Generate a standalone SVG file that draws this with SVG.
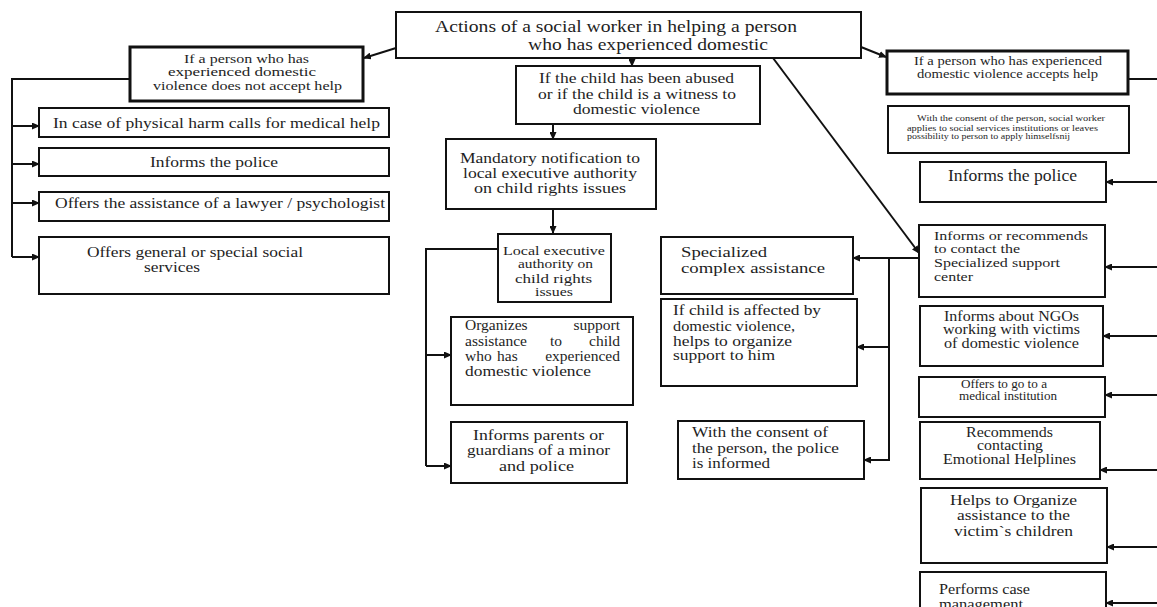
<svg xmlns="http://www.w3.org/2000/svg" width="1157" height="607" viewBox="0 0 1157 607">
<style>
.bx{fill:#fff;stroke:#111;stroke-width:2}
.bt{fill:#fff;stroke:#111;stroke-width:3}
.t{font-family:"Liberation Serif","Times New Roman",serif;fill:#1e1e1e}
.ln{fill:none;stroke:#111;stroke-width:2}
</style>
<defs>
<marker id="ah" markerWidth="8" markerHeight="7" refX="7" refY="3.5" orient="auto" markerUnits="userSpaceOnUse">
<path d="M0,0 L8,3.5 L0,7 Z" fill="#111"/>
</marker>
</defs>
<rect width="1157" height="607" fill="#fff"/>
<g id="connectors">
<line class="ln" x1="396" y1="48" x2="364" y2="58" marker-end="url(#ah)"/>
<line class="ln" x1="861" y1="47" x2="886" y2="57" marker-end="url(#ah)"/>
<line class="ln" x1="632" y1="57" x2="632" y2="66" marker-end="url(#ah)"/>
<line class="ln" x1="553" y1="124" x2="553" y2="139" marker-end="url(#ah)"/>
<line class="ln" x1="553" y1="209" x2="553" y2="233" stroke-width="2.5" marker-end="url(#ah)"/>
<line class="ln" x1="773" y1="58" x2="919" y2="253" marker-end="url(#ah)"/>
<polyline class="ln" points="130,79 12,79 12,257"/>
<line class="ln" x1="12" y1="126" x2="39" y2="126" marker-end="url(#ah)"/>
<line class="ln" x1="12" y1="164" x2="39" y2="164" marker-end="url(#ah)"/>
<line class="ln" x1="12" y1="203" x2="39" y2="203" marker-end="url(#ah)"/>
<line class="ln" x1="12" y1="257" x2="39" y2="257" marker-end="url(#ah)"/>
<polyline class="ln" points="498,249 426,249 426,466"/>
<line class="ln" x1="426" y1="355" x2="451" y2="355" marker-end="url(#ah)"/>
<line class="ln" x1="426" y1="466" x2="451" y2="466" marker-end="url(#ah)"/>
<line class="ln" x1="919" y1="258" x2="853" y2="258" marker-end="url(#ah)"/>
<line class="ln" x1="889" y1="258" x2="889" y2="461"/>
<line class="ln" x1="889" y1="347" x2="857" y2="347" marker-end="url(#ah)"/>
<line class="ln" x1="889" y1="460" x2="864" y2="460" marker-end="url(#ah)"/>
<line class="ln" x1="1128" y1="79" x2="1157" y2="79"/>
<line class="ln" x1="1157" y1="182" x2="1106" y2="182" marker-end="url(#ah)"/>
<line class="ln" x1="1157" y1="267" x2="1105" y2="267" marker-end="url(#ah)"/>
<line class="ln" x1="1157" y1="336" x2="1103" y2="336" marker-end="url(#ah)"/>
<line class="ln" x1="1157" y1="395" x2="1105" y2="395" marker-end="url(#ah)"/>
<line class="ln" x1="1157" y1="470" x2="1100" y2="470" marker-end="url(#ah)"/>
<line class="ln" x1="1157" y1="547" x2="1107" y2="547" marker-end="url(#ah)"/>
<line class="ln" x1="1157" y1="603" x2="1106" y2="603" marker-end="url(#ah)"/>
</g>
<g id="n-top">
<rect class="bx" x="396" y="12" width="465" height="46"/>
<text class="t" font-size="17"><tspan x="435" y="32" textLength="362" lengthAdjust="spacingAndGlyphs">Actions of a social worker in helping a person</tspan><tspan x="528" y="50" textLength="240" lengthAdjust="spacingAndGlyphs">who has experienced domestic</tspan></text>
</g>
<g id="n-notaccept">
<rect class="bt" x="130" y="47" width="233" height="54"/>
<text class="t" font-size="13.5"><tspan x="184" y="63" textLength="125" lengthAdjust="spacingAndGlyphs">If a person who has</tspan><tspan x="168" y="76" textLength="148" lengthAdjust="spacingAndGlyphs">experienced domestic</tspan><tspan x="153" y="90" textLength="189" lengthAdjust="spacingAndGlyphs">violence does not accept help</tspan></text>
</g>
<g id="n-medhelp">
<rect class="bx" x="39" y="108" width="350" height="29"/>
<text class="t" font-size="15"><tspan x="53" y="128" textLength="327" lengthAdjust="spacingAndGlyphs">In case of physical harm calls for medical help</tspan></text>
</g>
<g id="n-police-left">
<rect class="bx" x="39" y="148" width="350" height="28"/>
<text class="t" font-size="15"><tspan x="150" y="167" textLength="128" lengthAdjust="spacingAndGlyphs">Informs the police</tspan></text>
</g>
<g id="n-lawyer">
<rect class="bx" x="39" y="192" width="350" height="29"/>
<text class="t" font-size="15"><tspan x="55" y="208" textLength="330" lengthAdjust="spacingAndGlyphs">Offers the assistance of a lawyer / psychologist</tspan></text>
</g>
<g id="n-general">
<rect class="bx" x="39" y="237" width="350" height="57"/>
<text class="t" font-size="15"><tspan x="87" y="257" textLength="216" lengthAdjust="spacingAndGlyphs">Offers general or special social</tspan><tspan x="144" y="272" textLength="56" lengthAdjust="spacingAndGlyphs">services</tspan></text>
</g>
<g id="n-child">
<rect class="bx" x="516" y="66" width="244" height="58"/>
<text class="t" font-size="14.5"><tspan x="539" y="83" textLength="195" lengthAdjust="spacingAndGlyphs">If the child has been abused</tspan><tspan x="538" y="99" textLength="198" lengthAdjust="spacingAndGlyphs">or if the child is a witness to</tspan><tspan x="573" y="114" textLength="127" lengthAdjust="spacingAndGlyphs">domestic violence</tspan></text>
</g>
<g id="n-mandatory">
<rect class="bx" x="446" y="139" width="210" height="70"/>
<text class="t" font-size="14.5"><tspan x="460" y="163" textLength="180" lengthAdjust="spacingAndGlyphs">Mandatory notification to</tspan><tspan x="463" y="178" textLength="174" lengthAdjust="spacingAndGlyphs">local executive authority</tspan><tspan x="474" y="193" textLength="152" lengthAdjust="spacingAndGlyphs">on child  rights issues</tspan></text>
</g>
<g id="n-localexec">
<rect class="bx" x="498" y="234" width="113" height="68"/>
<text class="t" font-size="13"><tspan x="503" y="255" textLength="102" lengthAdjust="spacingAndGlyphs">Local executive</tspan><tspan x="518" y="268" textLength="75" lengthAdjust="spacingAndGlyphs">authority on</tspan><tspan x="515" y="283" textLength="77" lengthAdjust="spacingAndGlyphs">child  rights</tspan><tspan x="535" y="296" textLength="38" lengthAdjust="spacingAndGlyphs">issues</tspan></text>
</g>
<g id="n-organizes">
<rect class="bx" x="451" y="317" width="182" height="88"/>
<text class="t" font-size="15.5"><tspan x="465" y="330">Organizes</tspan><tspan x="620" y="330" text-anchor="end">support</tspan><tspan x="465" y="346">assistance</tspan><tspan x="550" y="346">to</tspan><tspan x="620" y="346" text-anchor="end">child</tspan><tspan x="465" y="361">who</tspan><tspan x="497" y="361">has</tspan><tspan x="620" y="361" text-anchor="end">experienced</tspan><tspan x="465" y="376" textLength="126" lengthAdjust="spacingAndGlyphs">domestic violence</tspan></text>
</g>
<g id="n-parents">
<rect class="bx" x="451" y="422" width="176" height="61"/>
<text class="t" font-size="14"><tspan x="473" y="440" textLength="131" lengthAdjust="spacingAndGlyphs">Informs  parents or</tspan><tspan x="467" y="455" textLength="143" lengthAdjust="spacingAndGlyphs">guardians of a minor</tspan><tspan x="499" y="471" textLength="75" lengthAdjust="spacingAndGlyphs">and police</tspan></text>
</g>
<g id="n-specialized">
<rect class="bx" x="661" y="237" width="192" height="57"/>
<text class="t" font-size="15"><tspan x="681" y="257" textLength="86" lengthAdjust="spacingAndGlyphs">Specialized</tspan><tspan x="681" y="273" textLength="144" lengthAdjust="spacingAndGlyphs">complex assistance</tspan></text>
</g>
<g id="n-ifchild">
<rect class="bx" x="661" y="299" width="196" height="87"/>
<text class="t" font-size="14.5"><tspan x="673" y="315" textLength="148" lengthAdjust="spacingAndGlyphs">If child is affected by</tspan><tspan x="673" y="331" textLength="122" lengthAdjust="spacingAndGlyphs">domestic violence,</tspan><tspan x="673" y="346" textLength="119" lengthAdjust="spacingAndGlyphs">helps to organize</tspan><tspan x="673" y="360" textLength="102" lengthAdjust="spacingAndGlyphs">support to him</tspan></text>
</g>
<g id="n-consentpolice">
<rect class="bx" x="678" y="421" width="186" height="58"/>
<text class="t" font-size="14.5"><tspan x="692" y="437" textLength="136" lengthAdjust="spacingAndGlyphs">With the consent of</tspan><tspan x="692" y="453" textLength="147" lengthAdjust="spacingAndGlyphs">the person, the police</tspan><tspan x="692" y="468" textLength="78" lengthAdjust="spacingAndGlyphs">is informed</tspan></text>
</g>
<g id="n-accepts">
<rect class="bt" x="887" y="51" width="241" height="43"/>
<text class="t" font-size="13"><tspan x="914" y="65" textLength="188" lengthAdjust="spacingAndGlyphs">If a person who has experienced</tspan><tspan x="917" y="78" textLength="181" lengthAdjust="spacingAndGlyphs">domestic violence accepts help</tspan></text>
</g>
<g id="n-consentapply">
<rect class="bx" x="888" y="106" width="241" height="47" stroke-width="2.5"/>
<text class="t" font-size="8.5"><tspan x="917" y="121" textLength="188" lengthAdjust="spacingAndGlyphs">With the consent of the person, social worker</tspan><tspan x="907" y="131" textLength="191" lengthAdjust="spacingAndGlyphs">applies to social services institutions  or leaves</tspan><tspan x="907" y="139" textLength="163" lengthAdjust="spacingAndGlyphs">possibility to person to apply himselfsnij</tspan></text>
</g>
<g id="n-police-right">
<rect class="bx" x="920" y="162" width="186" height="40"/>
<text class="t" font-size="16"><tspan x="948" y="181" textLength="129" lengthAdjust="spacingAndGlyphs">Informs the police</tspan></text>
</g>
<g id="n-recommends">
<rect class="bx" x="919" y="225" width="186" height="72"/>
<text class="t" font-size="13.5"><tspan x="934" y="240" textLength="154" lengthAdjust="spacingAndGlyphs">Informs or recommends</tspan><tspan x="934" y="253" textLength="86" lengthAdjust="spacingAndGlyphs">to contact the</tspan><tspan x="934" y="267" textLength="126" lengthAdjust="spacingAndGlyphs">Specialized support</tspan><tspan x="934" y="281" textLength="39" lengthAdjust="spacingAndGlyphs">center</tspan></text>
</g>
<g id="n-ngos">
<rect class="bx" x="920" y="306" width="183" height="60"/>
<text class="t" font-size="14"><tspan x="944" y="321" textLength="135" lengthAdjust="spacingAndGlyphs">Informs about NGOs</tspan><tspan x="943" y="334" textLength="137" lengthAdjust="spacingAndGlyphs">working with victims</tspan><tspan x="944" y="348" textLength="135" lengthAdjust="spacingAndGlyphs">of domestic violence</tspan></text>
</g>
<g id="n-medical">
<rect class="bx" x="919" y="377" width="186" height="40"/>
<text class="t" font-size="11.5"><tspan x="961" y="388" textLength="86" lengthAdjust="spacingAndGlyphs">Offers to go to a</tspan><tspan x="959" y="400" textLength="98" lengthAdjust="spacingAndGlyphs">medical institution</tspan></text>
</g>
<g id="n-helplines">
<rect class="bx" x="920" y="422" width="180" height="57"/>
<text class="t" font-size="14"><tspan x="966" y="437" textLength="87" lengthAdjust="spacingAndGlyphs">Recommends</tspan><tspan x="977" y="450" textLength="66" lengthAdjust="spacingAndGlyphs">contacting</tspan><tspan x="943" y="464" textLength="133" lengthAdjust="spacingAndGlyphs">Emotional Helplines</tspan></text>
</g>
<g id="n-helps">
<rect class="bx" x="921" y="488" width="186" height="75"/>
<text class="t" font-size="15.5"><tspan x="950" y="505" textLength="127" lengthAdjust="spacingAndGlyphs">Helps to Organize</tspan><tspan x="957" y="520" textLength="113" lengthAdjust="spacingAndGlyphs">assistance to the</tspan><tspan x="954" y="536" textLength="119" lengthAdjust="spacingAndGlyphs">victim`s children</tspan></text>
</g>
<g id="n-performs">
<rect class="bx" x="920" y="572" width="186" height="50"/>
<text class="t" font-size="14"><tspan x="939" y="594" textLength="91" lengthAdjust="spacingAndGlyphs">Performs case</tspan><tspan x="939" y="609" textLength="84" lengthAdjust="spacingAndGlyphs">management</tspan></text>
</g>
</svg>
